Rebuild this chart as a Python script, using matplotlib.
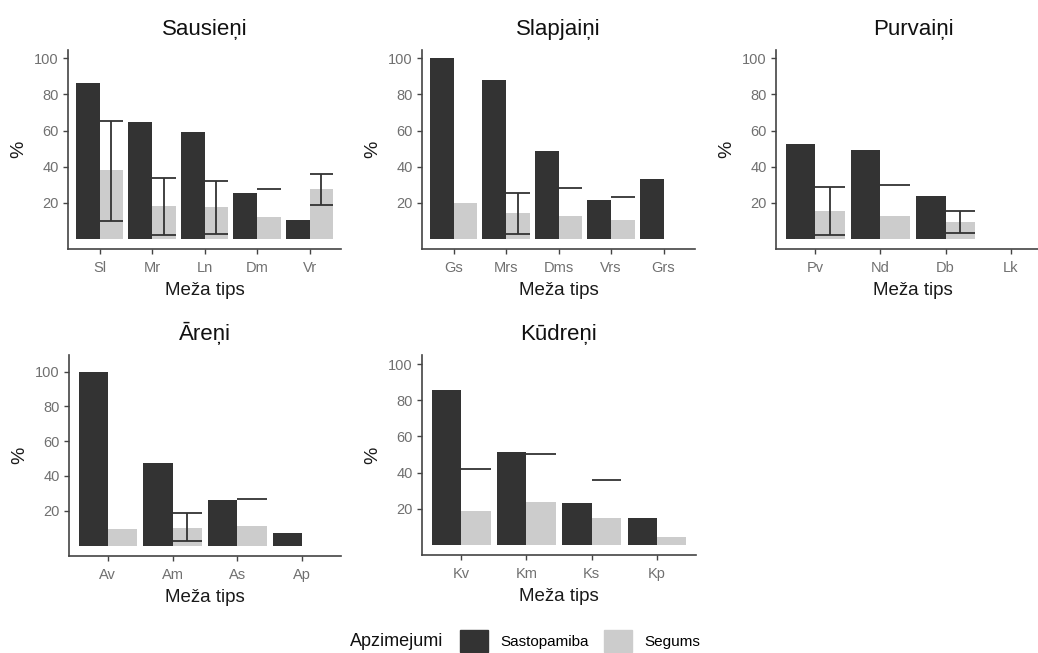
import numpy as np
import matplotlib
matplotlib.use("Agg")
import matplotlib.pyplot as plt
from matplotlib.patches import Patch

plt.rcParams["font.family"] = ["Liberation Sans", "DejaVu Sans"]

nan = np.nan

# ──────────────────────────────────────────────
# Dati (nolasīti no attēla)
# ──────────────────────────────────────────────
saus_cat = ["Sl", "Mr", "Ln", "Dm", "Vr"]
saus_sast = [86.5, 64.5, 59, 25.5, 10.5]
saus_seg = [38, 18.5, 17.5, 12, 27.5]
saus_lo = [10, 2.5, 3, 27.5, 19]
saus_hi = [65, 34, 32, 27.5, 36]

slap_cat = ["Gs", "Mrs", "Dms", "Vrs", "Grs"]
slap_sast = [100, 88, 48.5, 21.5, 33]
slap_seg = [20, 14.5, 12.5, 10.5, nan]
slap_lo = [nan, 3, 28, 23.5, nan]
slap_hi = [nan, 25.5, 28, 23.5, nan]

purv_cat = ["Pv", "Nd", "Db", "Lk"]
purv_sast = [52.5, 49, 24, nan]
purv_seg = [15.5, 13, 9.5, nan]
purv_lo = [2, 30, 3.5, nan]
purv_hi = [29, 30, 15.5, nan]

aren_cat = ["Av", "Am", "As", "Ap"]
aren_sast = [100, 47.5, 26, 7]
aren_seg = [9.5, 10, 11.5, nan]
aren_lo = [nan, 2.5, 26.5, nan]
aren_hi = [nan, 18.5, 26.5, nan]

kudr_cat = ["Kv", "Km", "Ks", "Kp"]
kudr_sast = [85.5, 51.5, 23, 15]
kudr_seg = [19, 24, 15, 4.5]
kudr_lo = [42, 50.5, 36, nan]
kudr_hi = [42, 50.5, 36, nan]

paneli = [
    ("Sausieņi",  saus_cat, saus_sast, saus_seg, saus_lo, saus_hi, (68, 50, 273, 199), (-5.5, 104.5)),
    ("Slapjaiņi", slap_cat, slap_sast, slap_seg, slap_lo, slap_hi, (422, 50, 273, 199), (-5.5, 104.5)),
    ("Purvaiņi",  purv_cat, purv_sast, purv_seg, purv_lo, purv_hi, (776, 50, 274, 199), (-5.5, 104.5)),
    ("Āreņi",     aren_cat, aren_sast, aren_seg, aren_lo, aren_hi, (69, 355, 272, 201), (-6, 109.5)),
    ("Kūdreņi",   kudr_cat, kudr_sast, kudr_seg, kudr_lo, kudr_hi, (422, 355, 274, 200), (-5.5, 105)),
]

W, H = 1038, 653
c_sast = "#333333"
c_seg = "#cccccc"
c_ax = "#444444"
bw = 0.45

fig = plt.figure(figsize=(W / 100, H / 100), dpi=100)

for nosauk, cat, sast, seg, lo, hi, (px, py, pw, ph), ylim in paneli:
    ax = fig.add_axes([px / W, 1 - (py + ph) / H, pw / W, ph / H])
    x = np.arange(1, len(cat) + 1)
    ax.bar(x - bw / 2, np.array(sast, float), width=bw, color=c_sast, zorder=2)
    ax.bar(x + bw / 2, np.array(seg, float), width=bw, color=c_seg, zorder=2)
    # kļūdu joslas (virs segums stabiņa)
    for xi, l, h in zip(x, lo, hi):
        if np.isnan(h):
            continue
        ax.hlines(h, xi, xi + bw, color=c_sast, lw=1.3, zorder=3)
        if l != h:
            ax.hlines(l, xi, xi + bw, color=c_sast, lw=1.3, zorder=3)
            ax.vlines(xi + bw / 2, l, h, color=c_sast, lw=1.3, zorder=3)

    ax.set_xlim(0.4, len(cat) + 0.6)
    ax.set_ylim(*ylim)
    ax.set_xticks(x)
    ax.set_xticklabels(cat)
    ax.set_yticks([20, 40, 60, 80, 100])
    ax.set_title(nosauk, fontsize=16, pad=11, color="#111111")
    ax.set_xlabel("Meža tips", fontsize=13.5, labelpad=5, color="#1a1a1a")
    ax.set_ylabel("%", fontsize=14, labelpad=5, color="#1a1a1a")
    for s in ["top", "right"]:
        ax.spines[s].set_visible(False)
    for s in ["left", "bottom"]:
        ax.spines[s].set_color(c_ax)
        ax.spines[s].set_linewidth(1.2)
    ax.tick_params(length=3.5, width=1, color=c_ax, labelsize=10.5,
                   labelcolor="#707070", pad=3)
    ax.tick_params(axis="x", pad=5)

# leģenda
fig.text(443 / W, 1 - 641 / H, "Apzimejumi", ha="right", va="center",
         fontsize=13, color="#111111")
fig.legend(handles=[Patch(color=c_sast), Patch(color=c_seg)],
           labels=["Sastopamiba", "Segums"], ncol=2, frameon=False,
           loc="center left", bbox_to_anchor=(460 / W, 1 - 641 / H),
           borderpad=0, borderaxespad=0, fontsize=11,
           handlelength=1.83, handleheight=1.8, handletextpad=0.8,
           columnspacing=1.0)

plt.savefig("out.png", dpi=100)
plt.close()
